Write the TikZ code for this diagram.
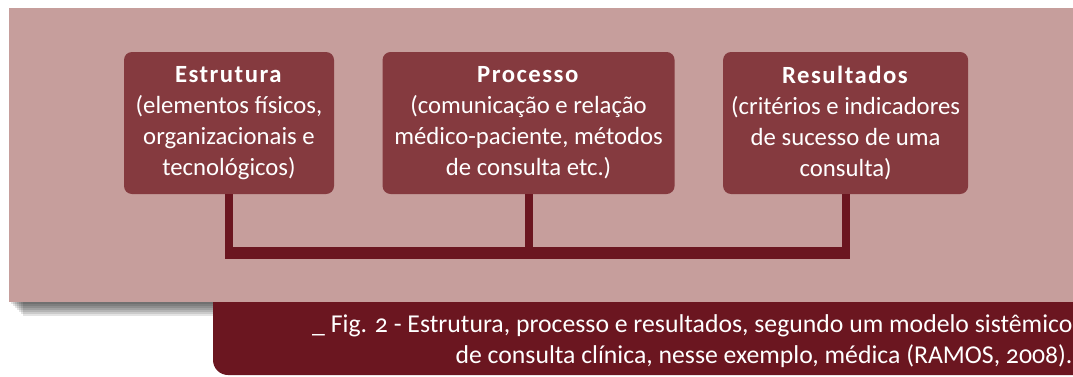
\documentclass[tikz,border=0pt]{standalone}
\usepackage{fontspec}
\setmainfont[Numbers=OldStyle]{Carlito}
\usepackage{tikz}
\usetikzlibrary{positioning}
\definecolor{panelpink}{HTML}{C69E9C}
\definecolor{boxred}{HTML}{853A3F}
\definecolor{darkred}{HTML}{6B1620}

\begin{document}
\begin{tikzpicture}[scale=1.0,transform shape,
    block/.style={rectangle, rounded corners=0.2cm, fill=boxred, text=white, align=center,
      inner sep=0pt, minimum height=3.55cm, font=\fontsize{17.6}{22}\selectfont},
    vline/.style={darkred, line width=0.2cm},
    hline/.style={darkred, line width=0.3cm}]
      \useasboundingbox (0,0) rectangle (26.825,9.4);
      % soft shadow under the panel
      \foreach \d in {0.05,0.1,...,0.4}
        \fill[black,fill opacity=0.11] (0.225+\d,1.85-\d) rectangle (26.825,8);
      \fill[panelpink] (0.225,1.85) rectangle (26.825,9.2);
      \fill[darkred] (5.325,1.85) [rounded corners=0.375cm] -- (5.325,0.025) -- (27.5,0.025) [sharp corners] -- (27.5,1.85) -- cycle;
      \node[block, minimum width=5.25cm] at (5.725,6.325) (est) {\textbf{\addfontfeature{LetterSpace=6}Estrutura}\\(elementos físicos,\\organizacionais e\\tecnológicos)};
      \node[block, minimum width=7.3cm, right=1.2cm of est] (proc) {\textbf{\addfontfeature{LetterSpace=6}Processo}\\(comunicação e relação\\médico-paciente, métodos\\de consulta etc.)};
      \node[block, minimum width=6.125cm, right=1.2cm of proc] (res) {\textbf{\addfontfeature{LetterSpace=6}Resultados}\\(critérios e indicadores\\de sucesso de uma\\consulta)};
      \node[anchor=east, text=white, align=right, inner sep=0pt, font=\fontsize{18.3}{22}\selectfont] at (26.82,0.88) (cap) {\_ Fig. 2 - Estrutura, processo e resultados, segundo um modelo sistêmico\\de consulta clínica, nesse exemplo, médica (RAMOS, 2008).};
      \coordinate (bus) at (0,3.075);
      \coordinate (busl) at (est.south |- bus);
      \coordinate (busr) at (res.south |- bus);
      \draw[vline] (est.south) -- (busl);
      \draw[vline] (proc.south) -- (proc.south |- bus);
      \draw[vline] (res.south) -- (busr);
      \draw[hline] ([xshift=-0.1cm]busl) -- ([xshift=0.1cm]busr);
\end{tikzpicture}
\end{document}
